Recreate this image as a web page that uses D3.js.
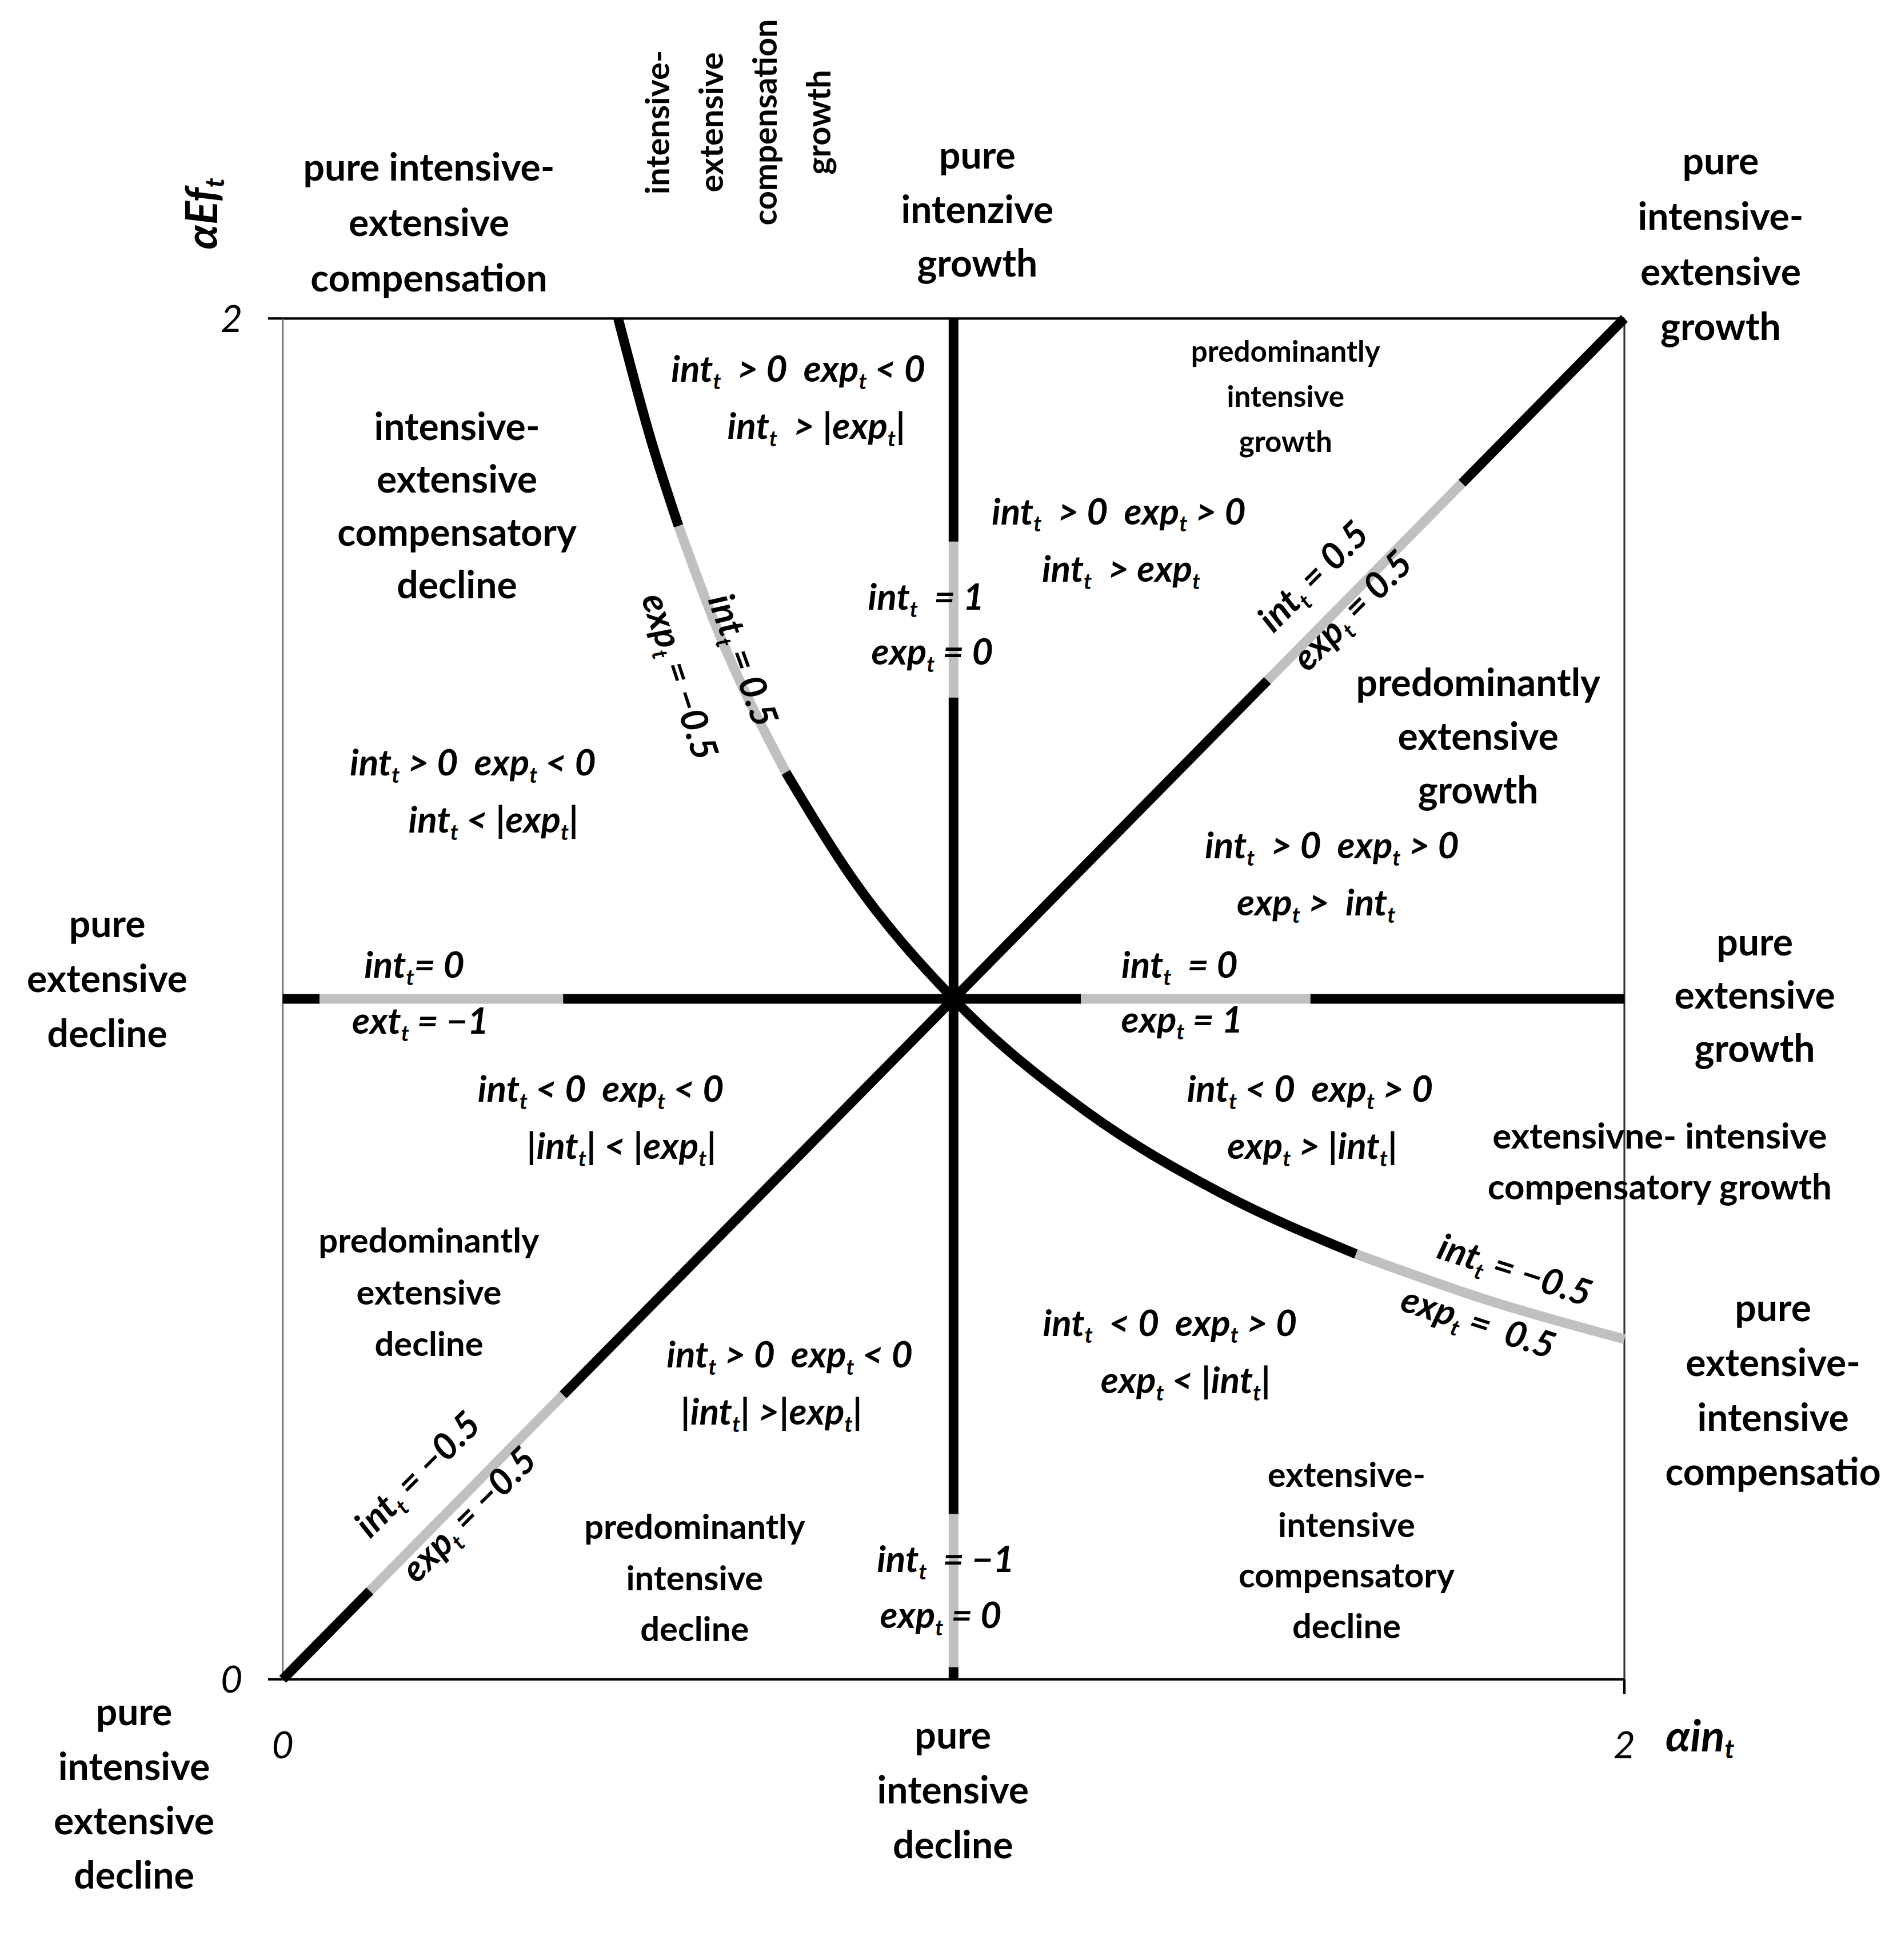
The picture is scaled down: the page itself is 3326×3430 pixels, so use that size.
<!DOCTYPE html>
<html>
<head>
<meta charset="utf-8">
<script src="https://cdn.jsdelivr.net/npm/d3@7"></script>
<style>
  body { margin: 0; background: #fff; }
  svg text { font-family: Lato, "Open Sans", sans-serif; font-weight: 700; fill: #000; }
</style>
</head>
<body>
<div id="chart"></div>
<script>
// axis domain and ticks
const domainX = [0, 2];
const domainY = [0, 2];
const tickVals = [0, 2];

// line segments along each line: [from, to, colour]
const vertSegs = [[0, 0.018, "k"], [0.018, 0.243, "g"], [0.243, 1.443, "k"], [1.443, 1.672, "g"], [1.672, 2, "k"]];
const horizSegs = [[0, 0.055, "k"], [0.055, 0.418, "g"], [0.418, 1.19, "k"], [1.19, 1.532, "g"], [1.532, 2, "k"]];
const diagSegs = [[0, 0.13, "k"], [0.13, 0.418, "g"], [0.418, 1.468, "k"], [1.468, 1.758, "g"], [1.758, 2, "k"]];
// hyperbola points (x, y)
const hypX = [0.5, 0.55, 0.59, 0.65, 0.75, 0.85, 1.0, 1.2, 1.4, 1.6, 1.8, 2.0];
const hypY = [2.0, 1.818, 1.695, 1.538, 1.333, 1.176, 1.0, 0.833, 0.714, 0.625, 0.556, 0.5];
const hypSegs = [[0.5, 0.59, "k"], [0.59, 0.75, "g"], [0.75, 1.6, "k"], [1.6, 2.0, "g"]];

// region labels: [lines, x, y(first line), line step, size]
const plainLabels = [
  [["pure intensive-", "extensive", "compensation"], 352, 137, 45.5, 31],
  [["pure", "intenzive", "growth"], 802, 127, 44.5, 31],
  [["pure", "intensive-", "extensive", "growth"], 1412, 132, 45.3, 31],
  [["pure", "extensive", "decline"], 88, 758, 45, 31],
  [["pure", "extensive", "growth"], 1440, 773, 43.5, 31],
  [["extensivne- intensive", "compensatory growth"], 1362, 932, 42, 29],
  [["pure", "extensive-", "intensive", "compensatio"], 1455, 1073, 45, 31],
  [["pure", "intensive", "extensive", "decline"], 110, 1405, 44.7, 31],
  [["pure", "intensive", "decline"], 782, 1424, 45, 31],
  [["predominantly", "intensive", "growth"], 1055, 288, 37, 24],
  [["intensive-", "extensive", "compensatory", "decline"], 375, 350, 43.3, 31],
  [["predominantly", "extensive", "growth"], 1213, 560, 44, 31],
  [["predominantly", "extensive", "decline"], 352, 1018, 42.5, 28],
  [["predominantly", "intensive", "decline"], 570, 1253, 42, 28],
  [["extensive-", "intensive", "compensatory", "decline"], 1105, 1210, 41.5, 28]
];
const rotLabel = [["intensive-", "extensive", "compensation", "growth"], 540, 100, 44, 27];

// math labels: [text, x, y, rotation]
const mathLabels = [
  ["int_t  > 0  exp_t < 0", 655, 303, 0], ["int_t  > |exp_t|", 670, 350, 0],
  ["int_t  > 0  exp_t > 0", 918, 420, 0], ["int_t  > exp_t", 920, 467, 0],
  ["int_t  = 1", 760, 490, 0], ["exp_t = 0", 765, 535, 0],
  ["int_t > 0  exp_t < 0", 388, 626, 0], ["int_t < |exp_t|", 405, 673, 0],
  ["int_t  > 0  exp_t > 0", 1093, 694, 0], ["exp_t >  int_t", 1080, 741, 0],
  ["int_t= 0", 340, 792, 0], ["ext_t = −1", 345, 838, 0],
  ["int_t  = 0", 968, 792, 0], ["exp_t = 1", 970, 837, 0],
  ["int_t < 0  exp_t < 0", 493, 894, 0], ["|int_t| < |exp_t|", 510, 941, 0],
  ["int_t < 0  exp_t > 0", 1075, 894, 0], ["exp_t > |int_t|", 1077, 941, 0],
  ["int_t  < 0  exp_t > 0", 960, 1086, 0], ["exp_t < |int_t|", 973, 1133, 0],
  ["int_t > 0  exp_t < 0", 648, 1112, 0], ["|int_t| >|exp_t|", 633, 1159, 0],
  ["int_t  = −1", 776, 1280, 0], ["exp_t = 0", 772, 1326, 0],
  ["int_t = 0.5", 1085, 470, -45], ["exp_t = 0.5", 1117, 498, -45],
  ["int_t = −0.5", 350, 1207, -45], ["exp_t = −0.5", 392, 1240, -45],
  ["int_t = 0.5", 600, 535, 70], ["exp_t = −0.5", 548, 548, 72],
  ["int_t = −0.5", 1240, 1042, 18], ["exp_t =  0.5", 1210, 1085, 18]
];

const W = 1560, H = 1608;
const svg = d3.select("#chart").append("svg")
  .attr("width", 3326).attr("height", 3430)
  .attr("viewBox", `0 0 ${W} ${H}`);

const x = d3.scaleLinear().domain(domainX).range([232, 1333]);
const y = d3.scaleLinear().domain(domainY).range([1378, 261]);
const col = c => c === "k" ? "#000" : "#c0c0c0";
const LW = 8;

// frame
svg.append("line").attr("x1", x(0)).attr("x2", x(2)).attr("y1", y(2)).attr("y2", y(2)).attr("stroke", "#000").attr("stroke-width", 2);
svg.append("line").attr("x1", x(0)).attr("x2", x(2)).attr("y1", y(0)).attr("y2", y(0)).attr("stroke", "#000").attr("stroke-width", 2);
svg.append("line").attr("x1", x(0)).attr("x2", x(0)).attr("y1", y(0)).attr("y2", y(2)).attr("stroke", "#777").attr("stroke-width", 1.5);
svg.append("line").attr("x1", x(2)).attr("x2", x(2)).attr("y1", y(0)).attr("y2", y(2)).attr("stroke", "#333").attr("stroke-width", 1.5);
svg.append("line").attr("x1", x(0) - 12).attr("x2", x(0)).attr("y1", y(2)).attr("y2", y(2)).attr("stroke", "#000").attr("stroke-width", 2);
svg.append("line").attr("x1", x(0) - 12).attr("x2", x(0)).attr("y1", y(0)).attr("y2", y(0)).attr("stroke", "#000").attr("stroke-width", 2);
svg.append("line").attr("x1", x(2)).attr("x2", x(2)).attr("y1", y(0)).attr("y2", y(0) + 12).attr("stroke", "#000").attr("stroke-width", 2);

const g = svg.append("g").attr("stroke-linecap", "butt").attr("fill", "none");
vertSegs.forEach(([a, b, c]) => g.append("line").attr("x1", x(1)).attr("x2", x(1)).attr("y1", y(a)).attr("y2", y(b)).attr("stroke", col(c)).attr("stroke-width", LW));
horizSegs.forEach(([a, b, c]) => g.append("line").attr("y1", y(1)).attr("y2", y(1)).attr("x1", x(a)).attr("x2", x(b)).attr("stroke", col(c)).attr("stroke-width", LW));
diagSegs.forEach(([a, b, c]) => g.append("line").attr("x1", x(a)).attr("y1", y(a)).attr("x2", x(b)).attr("y2", y(b)).attr("stroke", col(c)).attr("stroke-width", LW));

// hyperbola, sliced by x range
const hypPts = hypX.map((v, i) => [v, hypY[i]]);
const interpY = v => {
  for (let i = 1; i < hypPts.length; i++) {
    if (v <= hypPts[i][0]) {
      const [x0, y0] = hypPts[i - 1], [x1, y1] = hypPts[i];
      return y0 + (y1 - y0) * (v - x0) / (x1 - x0);
    }
  }
  return hypPts[hypPts.length - 1][1];
};
const line = d3.line().x(d => x(d[0])).y(d => y(d[1])).curve(d3.curveMonotoneX);
hypSegs.forEach(([a, b, c]) => {
  const pts = [[a, interpY(a)], ...hypPts.filter(p => p[0] > a && p[0] < b), [b, interpY(b)]];
  g.append("path").attr("d", line(pts)).attr("stroke", col(c)).attr("stroke-width", LW);
});

// tick labels (italic, regular)
const tl = svg.append("g").style("font-style", "italic").attr("font-size", 31);
tickVals.forEach(v => {
  tl.append("text").attr("x", x(0) - 42).attr("y", y(v) + 11).attr("text-anchor", "middle").style("font-weight", 400).text(v);
  tl.append("text").attr("x", x(v)).attr("y", y(0) + 65).attr("text-anchor", "middle").style("font-weight", 400).text(v);
});

// text with "_t" subscripts
function mathText(sel, str) {
  const parts = str.split("_t");
  let shift = 0;
  parts.forEach((p, i) => {
    if (p.length) { sel.append("tspan").attr("dy", shift).text(p); shift = 0; }
    if (i < parts.length - 1) { sel.append("tspan").attr("dy", 6 + shift).attr("font-size", "0.6em").text("t"); shift = -6; }
  });
}
const yt = svg.append("text").attr("transform", "translate(178,175) rotate(-90)").attr("text-anchor", "middle")
  .attr("font-size", 36).style("font-style", "italic");
mathText(yt, "αEf_t");
const xt = svg.append("text").attr("x", 1395).attr("y", 1437).attr("text-anchor", "middle")
  .attr("font-size", 36).style("font-style", "italic");
mathText(xt, "αin_t");

// plain labels
plainLabels.forEach(([lines, lx, ly, step, size]) => {
  lines.forEach((t, i) => svg.append("text").attr("x", lx).attr("y", ly + i * step + size * 0.35)
    .attr("text-anchor", "middle").attr("font-size", size).text(t));
});
{
  const [lines, lx, ly, step, size] = rotLabel;
  lines.forEach((t, i) => svg.append("text")
    .attr("transform", `translate(${lx + i * step + size * 0.35},${ly}) rotate(-90)`)
    .attr("text-anchor", "middle").attr("font-size", size).text(t));
}

// math labels
mathLabels.forEach(([t, lx, ly, rot]) => {
  const el = svg.append("text").attr("transform", `translate(${lx},${ly + 10}) rotate(${rot})`)
    .attr("text-anchor", "middle").attr("font-size", 30).style("font-style", "italic")
    .style("white-space", "pre");
  mathText(el, t);
});
</script>
</body>
</html>
